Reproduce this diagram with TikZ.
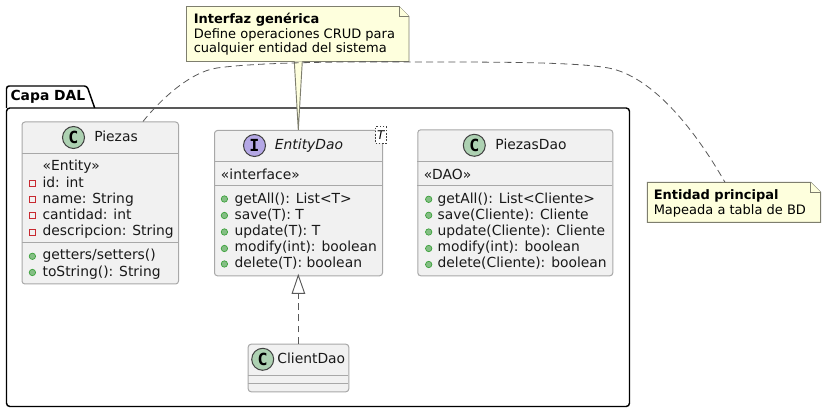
\documentclass[tikz,border=0pt]{standalone}
\usepackage{fontspec}
\setmainfont{DejaVu Sans}
\newfontfamily\spotfont{DejaVu Sans Mono}
\usetikzlibrary{arrows.meta}
\definecolor{boxfill}{HTML}{F1F1F1}
\definecolor{boxline}{HTML}{A8A8A8}
\definecolor{notefill}{HTML}{FEFFDD}
\definecolor{noteline}{HTML}{7E7E6E}
\definecolor{linkc}{HTML}{595959}
\definecolor{spotc}{HTML}{ADD1B2}
\definecolor{spoti}{HTML}{B4A7E5}
\definecolor{pubfill}{HTML}{84BE84}
\definecolor{publine}{HTML}{38A038}
\definecolor{privline}{HTML}{C82930}
\tikzset{
 x=0.75pt,y=-0.75pt,
 classbox/.style={draw=boxline,fill=boxfill,line width=0.75pt,rounded corners=2.2pt,inner sep=0pt,anchor=north west},
 sep/.style={draw=boxline,line width=0.75pt},
 member/.style={anchor=base west,inner sep=0pt,font=\fontsize{10.4}{12}\selectfont,text=black!90},
 title/.style={anchor=base,inner sep=0pt,font=\fontsize{10.4}{12}\selectfont,text=black!90},
 notebody/.style={draw=noteline,fill=notefill,line width=0.7pt},
 notetext/.style={anchor=base west,inner sep=0pt,font=\fontsize{9.75}{12}\selectfont,text=black},
 notehead/.style={anchor=base west,inner sep=0pt,font=\bfseries\fontsize{9.75}{12}\selectfont,text=black},
 pub/.style={circle,draw=publine,fill=pubfill,line width=0.5pt,inner sep=0pt,minimum size=4.8pt},
 priv/.style={rectangle,draw=privline,fill=none,line width=0.6pt,inner sep=0pt,minimum size=4.4pt},
 spot/.style={circle,draw=black!75,line width=0.75pt,inner sep=0pt,minimum size=16.5pt,font=\spotfont\bfseries\fontsize{12.5}{12}\selectfont},
 relink/.style={draw=linkc,line width=0.7pt,dash pattern=on 5.2pt off 3.2pt},
}
\begin{document}
\begin{tikzpicture}
\useasboundingbox (0,0) rectangle (826,413);
% package
\draw[black,line width=1.1pt,rounded corners=2pt] (6.5,108) -- (6.5,86) -- (87,86) -- (94.7,108);
\draw[black,line width=1.1pt,rounded corners=2.5pt] (6.5,108) -- (6.5,406.5) -- (629.5,406.5) -- (629.5,108) -- cycle;
\node[anchor=base west,inner sep=0pt,font=\bfseries\fontsize{10.4}{12}\selectfont] (pkg) at (10.3,101) {Capa DAL};
% Piezas
\node[classbox,minimum width=156.5*0.75pt,minimum height=162*0.75pt] (piezas) at (21.5,121.5) {};
\draw[sep] (21.5,153.5) -- (178,153.5);
\draw[sep] (21.5,242.5) -- (178,242.5);
\node[spot,fill=spotc] (sp1) at (73.5,137.5) {C};
\node[title] (t1) at (116,141.7) {Piezas};
\node[member] (m1) at (42.3,170.7) {«Entity»};
\node[priv] (b2) at (32.4,183.3) {}; \node[member] (m2) at (42.3,187.3) {id: int};
\node[priv] (b3) at (32.4,199.5) {}; \node[member] (m3) at (42.3,203.3) {name: String};
\node[priv] (b4) at (32.4,215.5) {}; \node[member] (m4) at (42.3,219.3) {cantidad: int};
\node[priv] (b5) at (32.4,232) {}; \node[member] (m5) at (42.3,236) {descripcion: String};
\node[pub] (b6) at (32.4,256.3) {}; \node[member] (m6) at (42.3,260) {getters/setters()};
\node[pub] (b7) at (32.4,272.5) {}; \node[member] (m7) at (42.3,276.7) {toString(): String};
% EntityDao
\node[classbox,minimum width=168*0.75pt,minimum height=145.3*0.75pt] (entity) at (214,130) {};
\draw[sep] (214,161.7) -- (382,161.7);
\draw[sep] (214,185.3) -- (382,185.3);
\node[draw=black!75,dash pattern=on 1.2pt off 1.2pt,fill=white,line width=0.5pt,minimum width=10.4*0.75pt,minimum height=16.7*0.75pt,inner sep=0pt,anchor=north west,font=\itshape\fontsize{9}{10}\selectfont] (tparam) at (375.3,126.3) {T};
\node[spot,fill=spoti] (sp2) at (254.5,145.5) {I};
\node[title,font=\itshape\fontsize{10.4}{12}\selectfont] (t2) at (309,150) {EntityDao};
\node[member] (e1) at (220.7,179.3) {«interface»};
\node[pub] (c2) at (224.4,199) {}; \node[member] (e2) at (234.3,203.3) {getAll(): List<T>};
\node[pub] (c3) at (224.4,215.5) {}; \node[member] (e3) at (234.3,219.3) {save(T): T};
\node[pub] (c4) at (224.4,232) {}; \node[member] (e4) at (234.3,235.5) {update(T): T};
\node[pub] (c5) at (224.4,248.5) {}; \node[member] (e5) at (234.3,252) {modify(int): boolean};
\node[pub] (c6) at (224.4,264) {}; \node[member] (e6) at (234.3,268) {delete(T): boolean};
% PiezasDao
\node[classbox,minimum width=195*0.75pt,minimum height=146*0.75pt] (pdao) at (417.3,129.3) {};
\draw[sep] (417.3,161.3) -- (612.3,161.3);
\draw[sep] (417.3,185.3) -- (612.3,185.3);
\node[spot,fill=spotc] (sp3) at (474.3,145.3) {C};
\node[title] (t3) at (531,150) {PiezasDao};
\node[member] (d1) at (423.7,179.3) {«DAO»};
\node[pub] (f2) at (428.7,199.3) {}; \node[member] (d2) at (437.3,203.3) {getAll(): List<Cliente>};
\node[pub] (f3) at (428.7,215.3) {}; \node[member] (d3) at (437.3,219.3) {save(Cliente): Cliente};
\node[pub] (f4) at (428.7,232) {}; \node[member] (d4) at (437.3,235.5) {update(Cliente): Cliente};
\node[pub] (f5) at (428.7,248.5) {}; \node[member] (d5) at (437.3,252) {modify(int): boolean};
\node[pub] (f6) at (428.7,264.5) {}; \node[member] (d6) at (437.3,268) {delete(Cliente): boolean};
% ClientDao
\node[classbox,minimum width=100.6*0.75pt,minimum height=47.6*0.75pt] (cdao) at (247.7,343.7) {};
\draw[sep] (247.7,375.3) -- (348.3,375.3);
\draw[sep] (247.7,383.3) -- (348.3,383.3);
\node[spot,fill=spotc] (sp4) at (262.7,359.3) {C};
\node[title] (t4) at (311.3,363.6) {ClientDao};
% notes
\draw[notebody] (186.5,6.5) -- (399,6.5) -- (409,16.5) -- (409,61.5) -- (186.5,61.5) -- cycle;
\draw[noteline,line width=0.7pt,fill=notefill] (399,6.5) -- (399,16.5) -- (409,16.5);
\node[notehead] (n1a) at (193.5,23.3) {Interfaz genérica};
\node[notetext] (n1b) at (193.5,38.3) {Define operaciones CRUD para};
\node[notetext] (n1c) at (193.5,53) {cualquier entidad del sistema};
\coordinate (nA) at (294.3,61.5);
\coordinate (nB) at (302.3,61.5);
\coordinate (nT) at (298.3,129.8);
\fill[notefill] (nA) -- (nT) -- (nB) -- cycle;
\draw[noteline,line width=0.7pt] (nA) -- (nT) -- (nB);
\draw[notebody] (647.3,182.3) -- (810.7,182.3) -- (820.7,192.3) -- (820.7,222.3) -- (647.3,222.3) -- cycle;
\draw[noteline,line width=0.7pt,fill=notefill] (810.7,182.3) -- (810.7,192.3) -- (820.7,192.3);
\node[notehead] (n2a) at (653.5,199.3) {Entidad principal};
\node[notetext] (n2b) at (653.5,215) {Mapeada a tabla de BD};
% note link
\coordinate (pz) at (143,121.5);
\coordinate (en) at (725,182.3);
\draw[relink,line width=0.6pt] (pz) .. controls (160,100) and (190,72) .. (217,68) .. controls (260,62) and (350,61.5) .. (420,62) .. controls (500,62) and (585,62) .. (613,69) .. controls (655,80) and (695,130) .. (en);
% realization
\coordinate (ctop) at (298.3,343.7);
\coordinate (etip) at (298.3,275.3);
\coordinate (aL) at (292.2,293.3);
\coordinate (aR) at (304.6,293.3);
\coordinate (aB) at (298.3,293.3);
\draw[relink] (ctop) -- (aB);
\draw[linkc,line width=0.7pt,fill=white] (etip) -- (aR) -- (aL) -- cycle;
\end{tikzpicture}
\end{document}
